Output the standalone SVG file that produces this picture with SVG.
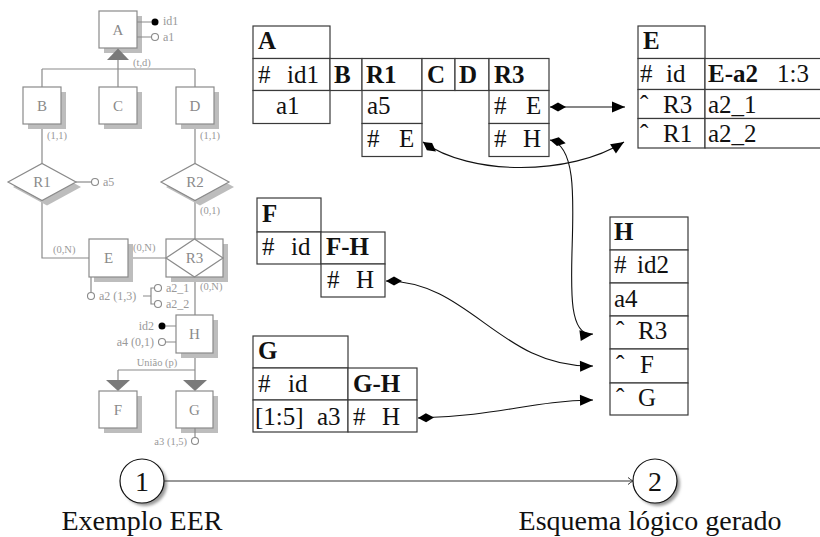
<svg xmlns="http://www.w3.org/2000/svg" width="820" height="537" viewBox="0 0 820 537">
<style>
.ln{stroke:#8a8a8a;stroke-width:1.2;fill:none}
.bx{fill:#fff;stroke:#8a8a8a;stroke-width:1.2}
.sh{fill:#bdbdbd}
.tri{fill:#7a7a7a}
.nm{font-family:"Liberation Serif","DejaVu Serif","Times New Roman",serif;font-size:15px;fill:#8a8a8a;text-anchor:middle}
.at{font-family:"Liberation Serif","DejaVu Serif","Times New Roman",serif;font-size:12px;fill:#999}
.cd{font-family:"Liberation Serif","DejaVu Serif","Times New Roman",serif;font-size:10.5px;fill:#999}
.oc{fill:#fff;stroke:#8a8a8a;stroke-width:1.1}
.fc{fill:#000}
.cell{fill:#fff;stroke:#3a3a3a;stroke-width:1.2}
.t{font-family:"Liberation Serif","DejaVu Serif","Times New Roman",serif;font-size:25px;fill:#111}
.b{font-weight:bold}
.con{fill:none;stroke:#111;stroke-width:1.1}
.big{font-family:"Liberation Serif","DejaVu Serif","Times New Roman",serif;font-size:28px;fill:#111;text-anchor:middle}
</style>
<defs>
<marker id="dia" markerUnits="userSpaceOnUse" markerWidth="20" markerHeight="12" refX="0" refY="6" orient="auto" viewBox="0 0 20 12">
<path d="M0,6 L8,1.5 L16,6 L8,10.5 Z" fill="#000"/>
</marker>
<marker id="arr" markerUnits="userSpaceOnUse" markerWidth="16" markerHeight="12" refX="14" refY="6" orient="auto" viewBox="0 0 16 12">
<path d="M1,0.5 L14,6 L1,11.5 Z" fill="#000"/>
</marker>
<marker id="tip" markerUnits="userSpaceOnUse" markerWidth="10" markerHeight="10" refX="7" refY="5" orient="auto" viewBox="0 0 10 10">
<path d="M2,1.5 Q5,4 7,5 Q5,6 2,8.5" fill="none" stroke="#333" stroke-width="1"/>
</marker>
<filter id="blur" x="-30%" y="-30%" width="160%" height="160%"><feGaussianBlur stdDeviation="1.5"/></filter>
</defs>

<!-- EER diagram -->
<g id="eer-lines">
<path class="ln" d="M118,60 V69 M42,69 H195 M42,69 V87 M118,69 V87 M195,69 V87"/>
<path class="ln" d="M42,124 V163.5 M195,124 V163.5"/>
<path class="ln" d="M42,200.5 V258 H89"/>
<path class="ln" d="M195,200.5 V239 M128,258 H166 M195,277 V315"/>
<path class="ln" d="M195,353 V380 M118,370 H195 M118,370 V380"/>
</g>

<g id="eer-A">
<rect class="sh" x="104" y="16" width="38" height="37"/>
<rect class="bx" x="99" y="11" width="38" height="37"/>
<text class="nm" x="118" y="35">A</text>
<path class="ln" d="M137,22 H151.5 M137,37 H151.5"/>
<circle class="fc" cx="155" cy="22" r="3.5"/>
<circle class="oc" cx="155" cy="37" r="3.5"/>
<text class="at" x="163" y="25">id1</text>
<text class="at" x="163" y="41">a1</text>
<polygon class="tri" points="107,60 118,48.5 129,60"/>
<text class="cd" x="133" y="66">(t,d)</text>
</g>

<g id="eer-B">
<rect class="sh" x="28" y="92" width="38" height="37"/>
<rect class="bx" x="23" y="87" width="38" height="37"/>
<text class="nm" x="42" y="111">B</text>
<text class="cd" x="47" y="139">(1,1)</text>
</g>
<g id="eer-C">
<rect class="sh" x="104" y="92" width="38" height="37"/>
<rect class="bx" x="99" y="87" width="38" height="37"/>
<text class="nm" x="118" y="111">C</text>
</g>
<g id="eer-D">
<rect class="sh" x="181" y="92" width="38" height="37"/>
<rect class="bx" x="176" y="87" width="38" height="37"/>
<text class="nm" x="195" y="111">D</text>
<text class="cd" x="200" y="139">(1,1)</text>
</g>

<g id="eer-R1">
<polygon class="sh" points="13,187 47,168.5 81,187 47,205.5"/>
<polygon class="bx" points="8,182 42,163.5 76,182 42,200.5"/>
<text class="nm" x="42" y="187">R1</text>
<path class="ln" d="M76,182 H91.5"/>
<circle class="oc" cx="95" cy="182" r="3.5"/>
<text class="at" x="103" y="186">a5</text>
<text class="cd" x="53" y="253">(0,N)</text>
</g>
<g id="eer-R2">
<polygon class="sh" points="166,187 200,168.5 234,187 200,205.5"/>
<polygon class="bx" points="161,182 195,163.5 229,182 195,200.5"/>
<text class="nm" x="195" y="187">R2</text>
<text class="cd" x="200" y="214">(0,1)</text>
</g>

<g id="eer-E">
<rect class="sh" x="94" y="244" width="39" height="38"/>
<rect class="bx" x="89" y="239" width="39" height="38"/>
<text class="nm" x="108.5" y="263">E</text>
<text class="cd" x="133" y="251">(0,N)</text>
<path class="ln" d="M91,277 V292.5"/>
<circle class="oc" cx="91" cy="296" r="3.5"/>
<text class="at" x="99" y="300">a2 (1,3)</text>
<path class="ln" d="M143,296 H151 M154.5,288 H151 V304 H154.5"/>
<circle class="oc" cx="158" cy="288" r="3.5"/>
<circle class="oc" cx="158" cy="304" r="3.5"/>
<text class="at" x="166" y="292">a2_1</text>
<text class="at" x="166" y="308">a2_2</text>
</g>

<g id="eer-R3">
<rect class="sh" x="171" y="244" width="57" height="38"/>
<rect class="bx" x="166" y="239" width="57" height="38"/>
<polygon class="bx" points="166,258 194.5,239 223,258 194.5,277"/>
<text class="nm" x="194.5" y="263">R3</text>
<text class="cd" x="200" y="290">(0,N)</text>
</g>

<g id="eer-H">
<rect class="sh" x="181" y="320" width="37" height="38"/>
<rect class="bx" x="176" y="315" width="37" height="38"/>
<text class="nm" x="194.5" y="339">H</text>
<path class="ln" d="M165.5,326 H176 M165.5,342 H176"/>
<circle class="fc" cx="162" cy="326" r="3.5"/>
<circle class="oc" cx="162" cy="342" r="3.5"/>
<text class="at" x="154" y="330" text-anchor="end">id2</text>
<text class="at" x="154" y="346" text-anchor="end">a4 (0,1)</text>
<text class="cd" x="157" y="366" text-anchor="middle">União (p)</text>
<polygon class="tri" points="106,380 130,380 118,391"/>
<polygon class="tri" points="183,380 207,380 195,391"/>
</g>

<g id="eer-F">
<rect class="sh" x="104" y="396" width="38" height="37"/>
<rect class="bx" x="99" y="391" width="38" height="37"/>
<text class="nm" x="118" y="415">F</text>
</g>
<g id="eer-G">
<rect class="sh" x="181" y="396" width="37" height="37"/>
<rect class="bx" x="176" y="391" width="37" height="37"/>
<text class="nm" x="194.5" y="415">G</text>
<path class="ln" d="M195,428 V437.5"/>
<circle class="oc" cx="195" cy="441" r="3.5"/>
<text class="cd" x="187" y="445" text-anchor="end">a3 (1,5)</text>
</g>

<!-- Logical schema tables -->
<g id="tbl-A">
<rect class="cell" x="253" y="26" width="77" height="32.5"/>
<rect class="cell" x="253" y="58.5" width="77" height="32"/>
<rect class="cell" x="330" y="58.5" width="32" height="32"/>
<rect class="cell" x="362" y="58.5" width="60" height="32"/>
<rect class="cell" x="422" y="58.5" width="33" height="32"/>
<rect class="cell" x="455" y="58.5" width="34" height="32"/>
<rect class="cell" x="489" y="58.5" width="60" height="32"/>
<rect class="cell" x="253" y="90.5" width="77" height="33"/>
<rect class="cell" x="362" y="90.5" width="60" height="33"/>
<rect class="cell" x="489" y="90.5" width="60" height="33"/>
<rect class="cell" x="362" y="123.5" width="60" height="33"/>
<rect class="cell" x="489" y="123.5" width="60" height="33"/>
<text class="t b" x="258" y="49">A</text>
<text class="t" x="258" y="83">#<tspan x="287">id1</tspan></text>
<text class="t b" x="334" y="83">B</text>
<text class="t b" x="366" y="83">R1</text>
<text class="t b" x="427" y="83">C</text>
<text class="t b" x="459" y="83">D</text>
<text class="t b" x="494" y="83">R3</text>
<text class="t" x="276" y="114">a1</text>
<text class="t" x="367" y="114">a5</text>
<text class="t" x="494" y="114">#<tspan x="526">E</tspan></text>
<text class="t" x="367" y="147">#<tspan x="399">E</tspan></text>
<text class="t" x="494" y="147">#<tspan x="523">H</tspan></text>
</g>

<g id="tbl-E">
<rect class="cell" x="638" y="26" width="67" height="32.5"/>
<rect class="cell" x="638" y="58.5" width="67" height="31"/>
<rect class="cell" x="705" y="58.5" width="120" height="31"/>
<rect class="cell" x="638" y="89.5" width="67" height="29"/>
<rect class="cell" x="705" y="89.5" width="120" height="29"/>
<rect class="cell" x="638" y="118.5" width="67" height="29.5"/>
<rect class="cell" x="705" y="118.5" width="120" height="29.5"/>
<text class="t b" x="643" y="49">E</text>
<text class="t" x="640" y="82">#<tspan x="666">id</tspan></text>
<text class="t" x="708" y="82"><tspan class="b">E-a2</tspan><tspan x="777">1:3</tspan></text>
<text class="t" x="640" y="113">ˆ<tspan x="663">R3</tspan></text>
<text class="t" x="708" y="113">a2_1</text>
<text class="t" x="640" y="142">ˆ<tspan x="663">R1</tspan></text>
<text class="t" x="708" y="142">a2_2</text>
</g>

<g id="tbl-F">
<rect class="cell" x="257" y="198" width="64" height="34"/>
<rect class="cell" x="257" y="232" width="64" height="32"/>
<rect class="cell" x="321" y="232" width="64" height="32"/>
<rect class="cell" x="321" y="264" width="64" height="33"/>
<text class="t b" x="262" y="222">F</text>
<text class="t" x="262" y="255">#<tspan x="291">id</tspan></text>
<text class="t b" x="326" y="255">F-H</text>
<text class="t" x="327" y="288">#<tspan x="356">H</tspan></text>
</g>

<g id="tbl-G">
<rect class="cell" x="253" y="336" width="95" height="32"/>
<rect class="cell" x="253" y="368" width="95" height="32"/>
<rect class="cell" x="348" y="368" width="69" height="32"/>
<rect class="cell" x="253" y="400" width="95" height="32"/>
<rect class="cell" x="348" y="400" width="69" height="32"/>
<text class="t b" x="258" y="359">G</text>
<text class="t" x="258" y="392">#<tspan x="288">id</tspan></text>
<text class="t b" x="353" y="392">G-H</text>
<text class="t" x="255" y="425">[1:5]<tspan x="317">a3</tspan></text>
<text class="t" x="353" y="425">#<tspan x="382">H</tspan></text>
</g>

<g id="tbl-H">
<rect class="cell" x="610" y="217" width="78" height="33"/>
<rect class="cell" x="610" y="250" width="78" height="33"/>
<rect class="cell" x="610" y="283" width="78" height="33"/>
<rect class="cell" x="610" y="316" width="78" height="33"/>
<rect class="cell" x="610" y="349" width="78" height="34"/>
<rect class="cell" x="610" y="383" width="78" height="32"/>
<text class="t b" x="614" y="240">H</text>
<text class="t" x="614" y="273">#<tspan x="637">id2</tspan></text>
<text class="t" x="614" y="307">a4</text>
<text class="t" x="616" y="339">ˆ<tspan x="638">R3</tspan></text>
<text class="t" x="616" y="373">ˆ<tspan x="640">F</tspan></text>
<text class="t" x="616" y="406">ˆ<tspan x="638">G</tspan></text>
</g>

<g id="connectors">
<path class="con" d="M550,107 L625,107" marker-start="url(#dia)" marker-end="url(#arr)"/>
<path class="con" d="M423,142 C470,176 570,176 624,142" marker-start="url(#dia)" marker-end="url(#arr)"/>
<path class="con" d="M550,140 C600,150 545,340 593,334" marker-start="url(#dia)" marker-end="url(#arr)"/>
<path class="con" d="M386,281 C470,281 500,368 593,366" marker-start="url(#dia)" marker-end="url(#arr)"/>
<path class="con" d="M418,418 C500,416 530,401 593,400" marker-start="url(#dia)" marker-end="url(#arr)"/>
</g>

<g id="step-1">
<circle cx="145" cy="484" r="22" fill="#999" filter="url(#blur)"/>
<circle cx="142" cy="481" r="22" fill="#fff" stroke="#111" stroke-width="1.2"/>
<text class="big" x="142" y="491">1</text>
<text class="big" x="142" y="530">Exemplo EER</text>
</g>
<g id="step-2">
<circle cx="658" cy="484" r="22" fill="#999" filter="url(#blur)"/>
<circle cx="655" cy="481" r="22" fill="#fff" stroke="#111" stroke-width="1.2"/>
<text class="big" x="655" y="491">2</text>
<text class="big" x="650" y="530">Esquema lógico gerado</text>
</g>
<g id="step-connector">
<path d="M164,481 H633" stroke="#333" stroke-width="1.1" fill="none" marker-end="url(#tip)"/>
</g>
</svg>
